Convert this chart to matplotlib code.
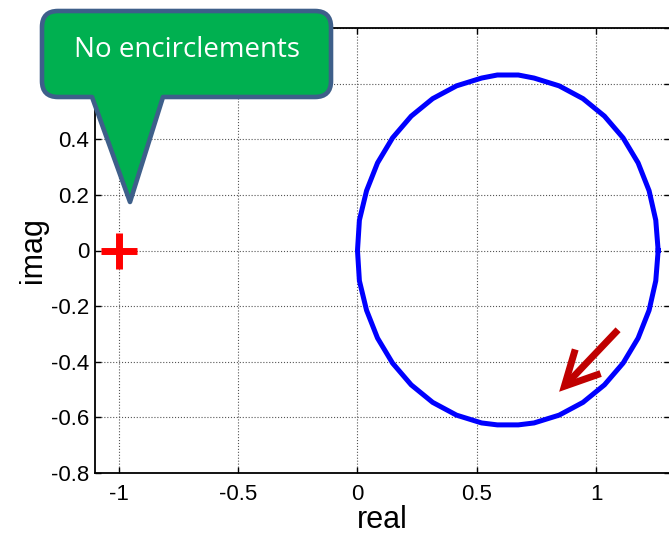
import matplotlib
matplotlib.use("Agg")
import matplotlib.pyplot as plt
from matplotlib.path import Path
from matplotlib.patches import PathPatch

plt.rcParams['font.family'] = ['Liberation Sans', 'DejaVu Sans']
plt.rcParams['axes.unicode_minus'] = False

# Nyquist curve points
real_vals = [1.260, 1.250, 1.222, 1.176, 1.113, 1.035, 0.945, 0.845, 0.740, 0.674, 0.586,
             0.520, 0.415, 0.315, 0.225, 0.147, 0.084, 0.038, 0.008, 0.000,
             0.008, 0.038, 0.084, 0.147, 0.225, 0.315, 0.415, 0.520, 0.586, 0.674,
             0.740, 0.845, 0.945, 1.035, 1.113, 1.176, 1.222, 1.250, 1.260]
imag_vals = [0.000, 0.109, 0.215, 0.315, 0.405, 0.483, 0.546, 0.592, 0.620, 0.631, 0.631,
             0.620, 0.592, 0.546, 0.483, 0.405, 0.315, 0.215, 0.109, 0.000,
             -0.109, -0.215, -0.315, -0.405, -0.483, -0.546, -0.592, -0.620, -0.627, -0.627,
             -0.620, -0.592, -0.546, -0.483, -0.405, -0.315, -0.215, -0.109, 0.000]

critical_pt = (-1.0, 0.0)
arrow_tail = (1.092, -0.285)
arrow_tip = (0.845, -0.508)

xticks = [-1, -0.5, 0, 0.5, 1]
xtick_labels = ['-1', '-0.5', '0', '0.5', '1']
yticks = [-0.8, -0.6, -0.4, -0.2, 0, 0.2, 0.4, 0.6, 0.8]
ytick_labels = ['-0.8', '-0.6', '-0.4', '-0.2', '0', '0.2', '0.4', '0.6', '0.8']
callout_text = "No encirclements"

W, H = 669, 535
fig = plt.figure(figsize=(W / 100, H / 100), dpi=100)
left_px, right_px, top_px, bot_px = 95, 670, 28, 473
ax = fig.add_axes([left_px / W, 1 - bot_px / H, (right_px - left_px) / W, (bot_px - top_px) / H])
ax.set_xlim(-1.1, (670 - 357) / 239)
ax.set_ylim(-0.8, 0.8)

ax.plot(real_vals, imag_vals, color='#0000FF', lw=3.6, solid_joinstyle='miter', zorder=3)
ax.plot([critical_pt[0]], [critical_pt[1]], marker='+', color='#FF0000', markersize=26,
        markeredgewidth=5, linestyle='none', zorder=4)
ax.annotate('', xy=arrow_tip, xytext=arrow_tail,
            arrowprops=dict(arrowstyle='->,head_length=0.82,head_width=0.42', lw=5,
                            color='#C00000', mutation_scale=30, shrinkA=0, shrinkB=0,
                            joinstyle='miter', capstyle='butt'),
            zorder=5)

ax.set_xticks(xticks)
ax.set_xticklabels(xtick_labels)
ax.set_yticks(yticks)
ax.set_yticklabels(ytick_labels)
ax.tick_params(direction='in', length=4, width=1, top=True, right=True, labelsize=16)
ax.tick_params(axis='x', pad=8)
ax.tick_params(axis='y', pad=4)
ax.grid(True, linestyle=':', color='#555555', linewidth=0.8)
for s in ax.spines.values():
    s.set_linewidth(1.3)
ax.set_xlabel('real', fontsize=22, labelpad=0)
ax.set_ylabel('imag', fontsize=22, labelpad=2)

# Callout in pixel coordinates (image space, y down)
x0, x1, y0, y1, r = 42, 331, 11, 97, 16
pl, pr, tip = 92, 163, (130, 202)
pts = [
    (Path.MOVETO, (x0 + r, y0)),
    (Path.LINETO, (x1 - r, y0)),
    (Path.CURVE3, (x1, y0)), (Path.CURVE3, (x1, y0 + r)),
    (Path.LINETO, (x1, y1 - r)),
    (Path.CURVE3, (x1, y1)), (Path.CURVE3, (x1 - r, y1)),
    (Path.LINETO, (pr, y1)),
    (Path.LINETO, tip),
    (Path.LINETO, (pl, y1)),
    (Path.LINETO, (x0 + r, y1)),
    (Path.CURVE3, (x0, y1)), (Path.CURVE3, (x0, y1 - r)),
    (Path.LINETO, (x0, y0 + r)),
    (Path.CURVE3, (x0, y0)), (Path.CURVE3, (x0 + r, y0)),
    (Path.CLOSEPOLY, (x0 + r, y0)),
]
codes = [c for c, _ in pts]
verts = [(px / W, 1 - py / H) for _, (px, py) in pts]
patch = PathPatch(Path(verts, codes), facecolor='#00B050', edgecolor='#3E5F8A',
                  linewidth=3.3, joinstyle='round', transform=fig.transFigure, zorder=10)
fig.patches.append(patch)
fig.text((x0 + x1) / 2 / W, 1 - 50 / H, callout_text, color='white', fontsize=20,
         family=['Open Sans', 'DejaVu Sans'], ha='center', va='center', zorder=11)

fig.savefig('out.png', dpi=100)
